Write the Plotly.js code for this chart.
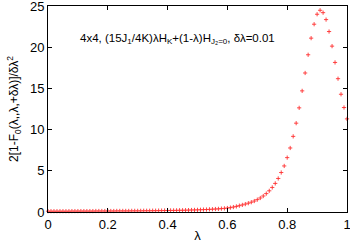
<!DOCTYPE html>
<html>
<head>
<meta charset="utf-8">
<script src="https://cdn.plot.ly/plotly-3.0.1.min.js"></script>
<style>html,body{margin:0;padding:0;background:#fff;}#chart{width:350px;height:245px;}</style>
</head>
<body>
<div id="chart"></div>
<script>
const lambdaValues = [
  0.00,0.01,0.02,0.03,0.04,0.05,0.06,0.07,0.08,0.09,
  0.10,0.11,0.12,0.13,0.14,0.15,0.16,0.17,0.18,0.19,
  0.20,0.21,0.22,0.23,0.24,0.25,0.26,0.27,0.28,0.29,
  0.30,0.31,0.32,0.33,0.34,0.35,0.36,0.37,0.38,0.39,
  0.40,0.41,0.42,0.43,0.44,0.45,0.46,0.47,0.48,0.49,
  0.50,0.51,0.52,0.53,0.54,0.55,0.56,0.57,0.58,0.59,
  0.60,0.61,0.62,0.63,0.64,0.65,0.66,0.67,0.68,0.69,
  0.70,0.71,0.72,0.73,0.74,0.75,0.76,0.77,0.78,0.79,
  0.80,0.81,0.82,0.83,0.84,0.85,0.86,0.87,0.88,0.89,
  0.90,0.91,0.92,0.93,0.94,0.95,0.96,0.97,0.98,0.99,
  1.00
];
const fidelityValues = [
  0.10,0.10,0.10,0.10,0.10,0.10,0.10,0.10,0.11,0.11,
  0.11,0.11,0.11,0.11,0.11,0.11,0.12,0.12,0.12,0.12,
  0.12,0.12,0.12,0.13,0.13,0.13,0.13,0.13,0.14,0.14,
  0.14,0.14,0.15,0.15,0.15,0.16,0.16,0.17,0.17,0.18,
  0.18,0.19,0.19,0.20,0.21,0.21,0.22,0.23,0.24,0.25,
  0.26,0.27,0.29,0.30,0.32,0.34,0.36,0.38,0.41,0.44,
  0.48,0.53,0.60,0.68,0.77,0.86,0.96,1.07,1.19,1.33,
  1.50,1.70,1.94,2.23,2.57,2.98,3.47,4.07,4.79,5.59,
  6.60,7.77,9.18,10.78,12.64,14.70,16.87,19.08,21.10,22.79,
  24.00,24.48,24.19,23.35,21.90,20.13,18.15,16.18,14.29,12.68,
  11.30
];
const xTicks = [0, 0.2, 0.4, 0.6, 0.8, 1];
const xTickLabels = ['0', '0.2', '0.4', '0.6', '0.8', '1'];
const yTicks = [0, 5, 10, 15, 20, 25];
const yTickLabels = ['0', '5', '10', '15', '20', '25'];
const annotationText = '4x4, (15J<sub>1</sub>/4K)λH<sub>K</sub>+(1-λ)H<sub>J₂=0</sub>, δλ=0.01';
const yTitle = '2[1-F<sub>0</sub>(λ,,λ,+δλ)]/δλ<sup>2</sup>';
const xTitle = 'λ';

const font = 'Liberation Sans, Arial, sans-serif';
const trace = {
  x: lambdaValues, y: fidelityValues, type: 'scatter', mode: 'markers',
  marker: {symbol: 'cross-thin', size: 3, color: '#ff3030', line: {color: '#ff3030', width: 0.9}},
  cliponaxis: false, showlegend: false
};
const axisCommon = {
  showline: true, linecolor: '#000', linewidth: 1, mirror: 'allticks',
  ticks: 'inside', ticklen: 4, tickcolor: '#000', tickwidth: 1,
  showgrid: false, zeroline: false, tickmode: 'array', ticklabeloverflow: 'allow',
  tickfont: {family: font, size: 13, color: '#000'}
};
const layout = {
  width: 350, height: 245,
  margin: {l: 48, r: 3, t: 6, b: 33},
  paper_bgcolor: '#fff', plot_bgcolor: '#fff',
  font: {family: font, color: '#000'},
  xaxis: Object.assign({}, axisCommon, {range: [0, 1], tickvals: xTicks, ticktext: xTickLabels,
    title: {text: xTitle, font: {family: font, size: 13}, standoff: 0}}),
  yaxis: Object.assign({}, axisCommon, {range: [0, 25], tickvals: yTicks, ticktext: yTickLabels,
    title: {text: yTitle, font: {family: font, size: 12}, standoff: 8}}),
  annotations: [{
    text: annotationText, xref: 'paper', yref: 'paper', x: 0.1, y: 0.84,
    xanchor: 'left', yanchor: 'middle', showarrow: false,
    font: {family: font, size: 11.5, color: '#000'}
  }]
};
Plotly.newPlot('chart', [trace], layout, {displayModeBar: false, staticPlot: true});
</script>
</body>
</html>
